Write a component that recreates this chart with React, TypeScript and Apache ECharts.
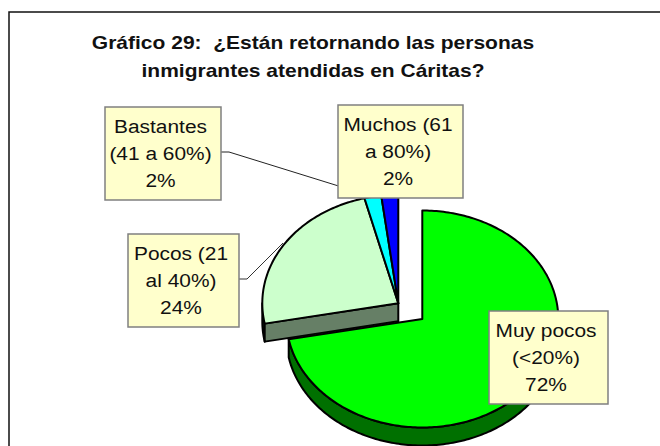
import React, { useEffect, useRef } from "react";
import * as echarts from "echarts";

const titleText = "Gráfico 29:  ¿Están retornando las personas\ninmigrantes atendidas en Cáritas?";
const categories = ["Muy pocos", "Pocos", "Bastantes", "Muchos"];
const shares = [72, 24, 2, 2];
const labelTexts = [
  "Muy pocos\n(<20%)\n72%",
  "Pocos (21\nal 40%)\n24%",
  "Bastantes\n(41 a 60%)\n2%",
  "Muchos (61\na 80%)\n2%",
];
const topColors = ["#00FF00", "#CCFFCC", "#00FFFF", "#0000FF"];
const wallColors = ["#007000", "#667F66", "#008080", "#000080"];

const RX = 136;
const RY = 108.5;
const DEPTH = 18;
const GROUP_CENTER = [398.3, 303.3];
const EXPLODED_CENTER = [422.3, 319];
const total = shares.reduce((a, b) => a + b, 0);

const labelBoxes = [
  { x: 489, y: 311, w: 119, h: 93 },
  { x: 128, y: 234, w: 111, h: 93 },
  { x: 105, y: 107, w: 116, h: 93 },
  { x: 338, y: 105, w: 125, h: 93 },
];

function rim(c: number[], deg: number, dy = 0): number[] {
  const t = (deg * Math.PI) / 180;
  return [c[0] + Math.sin(t) * RX, c[1] - Math.cos(t) * RY + dy];
}

function renderSlice(params: any, api: any) {
  const i = params.dataIndex;
  const before = shares.slice(0, i).reduce((a, b) => a + b, 0);
  const start = (before / total) * 360;
  const end = start + (api.value(0) / total) * 360;
  const c = i === 0 ? EXPLODED_CENTER : GROUP_CENTER;
  const outline = { stroke: "#000", lineWidth: 2, lineJoin: "round" };
  const children: any[] = [];

  // outer wall: only the part of the rim that faces the viewer (90° to 270°)
  const wallFrom = Math.max(start, 90);
  const wallTo = Math.min(end, 270);
  if (wallTo > wallFrom) {
    const upper: number[][] = [];
    const lower: number[][] = [];
    for (let d = wallFrom; d <= wallTo; d += 1) {
      upper.push(rim(c, d));
      lower.unshift(rim(c, d, DEPTH));
    }
    upper.push(rim(c, wallTo));
    lower.unshift(rim(c, wallTo, DEPTH));
    children.push({
      type: "polygon",
      shape: { points: upper.concat(lower) },
      style: { fill: i === 0 ? wallColors[0] : "#1c2a1c", ...outline },
    });
  }

  // cut face at the start of the slice that looks towards the viewer
  if (i === 1) {
    const p = rim(c, start);
    children.push({
      type: "polygon",
      shape: {
        points: [
          [c[0], c[1]],
          [c[0], c[1] + DEPTH],
          [p[0], p[1] + DEPTH],
          p,
        ],
      },
      style: { fill: wallColors[1], ...outline },
    });
  }

  const top: number[][] = [[c[0], c[1]]];
  for (let d = start; d < end; d += 1) top.push(rim(c, d));
  top.push(rim(c, end));
  children.push({
    type: "polygon",
    shape: { points: top },
    style: { fill: topColors[i], ...outline },
  });

  return { type: "group", children };
}

function labelGraphic(text: string, i: number) {
  const b = labelBoxes[i];
  return {
    type: "group",
    z: 20,
    children: [
      {
        type: "rect",
        z: 20,
        shape: { x: b.x, y: b.y, width: b.w, height: b.h },
        style: { fill: "#FFFFCC", stroke: "#808080", lineWidth: 1.5 },
      },
      {
        type: "text",
        z: 21,
        x: b.x + b.w / 2 - 2.5,
        y: b.y + b.h / 2,
        scaleX: 1.1,
        style: {
          text,
          fill: "#111",
          font: '19px "Liberation Sans"',
          lineHeight: 27,
          align: "center",
          verticalAlign: "middle",
        },
      },
    ],
  };
}

export default function App() {
  const ref = useRef<HTMLDivElement>(null);
  useEffect(() => {
    document.body.style.margin = "0";
    const chart = echarts.init(ref.current!, null, { renderer: "svg" });
    chart.setOption({
      animation: false,
      backgroundColor: "#fff",
      series: [
        {
          type: "custom",
          coordinateSystem: "none",
          z: 5,
          silent: true,
          data: categories.map((name, i) => ({ name, value: [shares[i]] })),
          renderItem: renderSlice,
        },
      ],
      graphic: [
        {
          type: "rect",
          z: 1,
          shape: { x: 9, y: 12, width: 700, height: 500 },
          style: { fill: "none", stroke: "#111", lineWidth: 1.5 },
        },
        {
          type: "text",
          z: 2,
          x: 313,
          y: 56.5,
          scaleX: 1.13,
          style: {
            text: titleText,
            fill: "#111",
            font: 'bold 18.6px "Liberation Sans"',
            lineHeight: 28,
            align: "center",
            verticalAlign: "middle",
          },
        },
        {
          type: "polyline",
          z: 10,
          shape: { points: [[221, 152], [229, 152], [345, 188]] },
          style: { fill: "none", stroke: "#222", lineWidth: 1 },
        },
        {
          type: "polyline",
          z: 10,
          shape: { points: [[239, 279], [247, 279], [283, 243]] },
          style: { fill: "none", stroke: "#333", lineWidth: 1 },
        },
        ...labelTexts.map(labelGraphic),
      ],
    });
    return () => chart.dispose();
  }, []);
  return <div ref={ref} style={{ width: 660, height: 446 }} />;
}
